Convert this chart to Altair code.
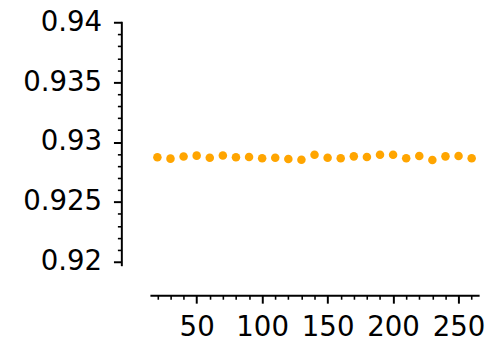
import altair as alt
import pandas as pd

x_vals = [20, 30, 40, 50, 60, 70, 80, 90, 100, 110, 120, 130, 140,
          150, 160, 170, 180, 190, 200, 210, 220, 230, 240, 250, 260]
y_vals = [0.92873, 0.92862, 0.92879, 0.92887, 0.92870, 0.92889, 0.92873,
          0.92875, 0.92865, 0.92870, 0.92859, 0.92852, 0.92895, 0.92870,
          0.92865, 0.92881, 0.92875, 0.92895, 0.92895, 0.92865, 0.92884,
          0.92851, 0.92881, 0.92884, 0.92865]

x_major = [50, 100, 150, 200, 250]
x_minor = [20, 30, 40, 60, 70, 80, 90, 110, 120, 130, 140, 160, 170, 180,
           190, 210, 220, 230, 240, 260]
y_major = [0.92, 0.925, 0.93, 0.935, 0.94]
y_minor = [0.921, 0.922, 0.923, 0.924, 0.926, 0.927, 0.928, 0.929, 0.931,
           0.932, 0.933, 0.934, 0.936, 0.937, 0.938, 0.939]

df = pd.DataFrame({"x": x_vals, "y": y_vals})

FONT = "DejaVu Sans"
FS = 28
xs = alt.Scale(domain=[14.3, 265.7], nice=False, zero=False)
ys = alt.Scale(domain=[0.91967, 0.9401], nice=False, zero=False)

common = dict(grid=False, title=None, domainColor="black", tickColor="black",
              labelColor="black", labelFont=FONT, labelFontSize=FS)

major = alt.Chart(df).mark_circle(size=75, color="#FFA500", opacity=1).encode(
    x=alt.X("x:Q", scale=xs, axis=alt.Axis(orient="bottom", values=x_major, tickSize=8,
                                            tickWidth=2, domainWidth=2, offset=30,
                                            labelPadding=11, labelFlush=False, **common)),
    y=alt.Y("y:Q", scale=ys, axis=alt.Axis(orient="left", values=y_major, tickSize=8,
                                            tickWidth=2, domainWidth=2, offset=29,
                                            labelPadding=12, format=".3~f", **common)),
)

minor = alt.Chart(df).mark_circle(opacity=0).encode(
    x=alt.X("x:Q", scale=xs, axis=alt.Axis(orient="bottom", values=x_minor, tickSize=4,
                                            tickWidth=1.6, domain=False, labels=False,
                                            offset=30, grid=False, title=None, tickColor="black")),
    y=alt.Y("y:Q", scale=ys, axis=alt.Axis(orient="left", values=y_minor, tickSize=4,
                                            tickWidth=1.6, domain=False, labels=False,
                                            offset=29, grid=False, title=None, tickColor="black")),
)

chart = alt.layer(major, minor).resolve_axis(x="independent", y="independent").properties(
    width=334, height=248,
    autosize=alt.AutoSizeParams(type="none"),
    padding={"left": 144, "top": 11, "right": 8, "bottom": 80},
).configure_view(stroke=None)

chart.save("out.html", embed_options={"renderer": "svg", "actions": False})
